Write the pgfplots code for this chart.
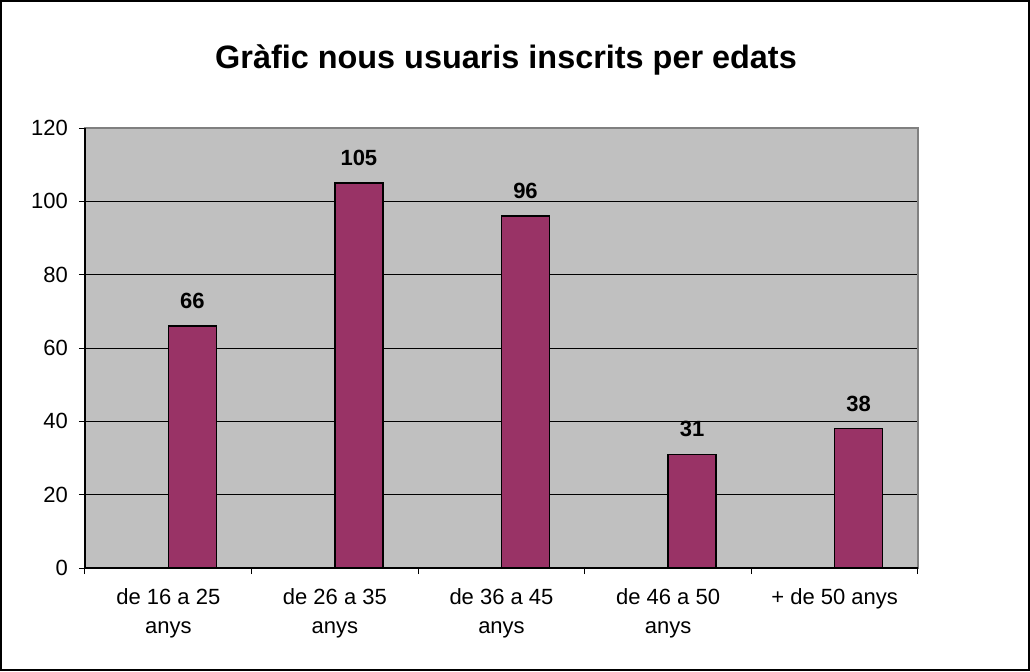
\documentclass[border=0pt]{standalone}
\usepackage{pgfplots}
\pgfplotsset{compat=1.18}
\usepackage{fontspec}
\setmainfont{Liberation Sans}
\definecolor{barfill}{HTML}{993366}
\definecolor{plotbg}{HTML}{C0C0C0}
\definecolor{bordergray}{HTML}{808080}
\begin{document}
\begin{tikzpicture}
\useasboundingbox (-42.5pt,-51.5pt) rectangle (472.5pt,284pt);
\draw[black, line width=1.2pt] (-41.9pt,-50.9pt) rectangle (471.9pt,283.4pt);
\begin{axis}[
  scale only axis,
  width=416.5pt, height=220pt,
  at={(0,0)}, anchor=south west,
  xmin=-0.5, xmax=4.5,
  ymin=0, ymax=120,
  ytick={0,20,...,120},
  xtick={-0.5,0.5,1.5,2.5,3.5,4.5},
  xticklabels={{de 16 a 25\\anys},{de 26 a 35\\anys},{de 36 a 45\\anys},{de 46 a 50\\anys},{+ de 50 anys}},
  x tick label as interval,
  xticklabel style={align=center, font=\fontsize{11}{14.5}\selectfont, anchor=north, yshift=-3.5pt},
  yticklabel style={font=\fontsize{11}{13}\selectfont, xshift=-2pt},
  /pgf/number format/assume math mode=true,
  xtick pos=bottom, ytick pos=left,
  tick align=outside,
  major tick length=3pt,
  tick style={black, line width=0.5pt},
  ymajorgrids,
  grid style={black, line width=0.5pt},
  axis background/.style={fill=plotbg},
  axis line style={bordergray, line width=0.8pt},
  ybar,
  bar width=0.288,
  nodes near coords,
  every node near coord/.append style={font=\bfseries\fontsize{11}{13}\selectfont, yshift=5pt},
  clip=false,
]
\addplot[fill=barfill, draw=black, line width=0.75pt] coordinates {
  (0.144,66) (1.144,105) (2.144,96) (3.144,31) (4.144,38)
};
\draw[black, line width=0.6pt] (axis cs:-0.5,120) -- (axis cs:-0.5,0) -- (axis cs:4.5,0);
\end{axis}
\node[font=\bfseries\fontsize{16.2}{19}\selectfont] at (210.5pt,254pt) {Gràfic nous usuaris inscrits per edats};
\end{tikzpicture}
\end{document}
